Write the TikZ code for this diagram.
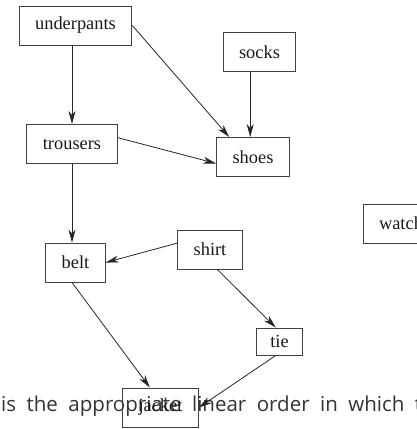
\documentclass[tikz,border=0pt]{standalone}
\usepackage{fontspec}
\setmainfont{Liberation Serif}
\newfontfamily\slidefont{Open Sans}
\usepackage{tikz}
\usetikzlibrary{arrows.meta}

\begin{document}
\begin{tikzpicture}[x=1pt, y=-1pt,
        item/.style={draw=black!75, line width=0.9pt, rectangle, inner xsep=16pt, inner ysep=0pt,
            minimum height=39pt, font=\fontsize{18.4}{22}\selectfont, text=black!90},
        edge/.style={black!85, line width=0.8pt, -{Stealth[length=13pt, width=7pt, inset=4pt]}}]
        \useasboundingbox (0,0) rectangle (417,429);

        \node[anchor=base west, inner sep=0pt, font=\slidefont\fontsize{20.5}{25}\selectfont, text=black!80]
            (caption) at (1,411.5) {\makebox[421pt][s]{is the appropriate linear order in which t}};

        \node[item] (underpants) at (75.5,25.5) {underpants};
        \node[item] (socks) at (259.5,52) {socks};
        \node[item] (trousers) at (72,144) {trousers};
        \node[item] (shoes) at (253,157) {shoes};
        \node[item] (watch) at (401,223.5) {watch};
        \node[item] (shirt) at (210,249.5) {shirt};
        \node[item] (belt) at (75.5,262.5) {belt};
        \node[item, inner xsep=13.5pt, minimum height=27pt] (tie) at (279.5,341.5) {tie};
        \node[item] (jacket) at (160.5,407.5) {jacket};

        \draw[edge] (underpants.south -| trousers) -- (trousers);
        \draw[edge] (underpants.east) -- (shoes.140);
        \draw[edge] (socks.south -| shoes.98) -- (shoes.98);
        \draw[edge] (trousers.8) -- (shoes.190);
        \draw[edge] (trousers) -- (trousers |- belt.north);
        \draw[edge] (shirt.169) -- (belt.east);
        \draw[edge] (shirt.-70) -- (tie.105);
        \draw[edge] (belt.-100) -- (jacket.118);
        \draw[edge] (tie.-105) -- (jacket.east);
    \end{tikzpicture}
\end{document}
